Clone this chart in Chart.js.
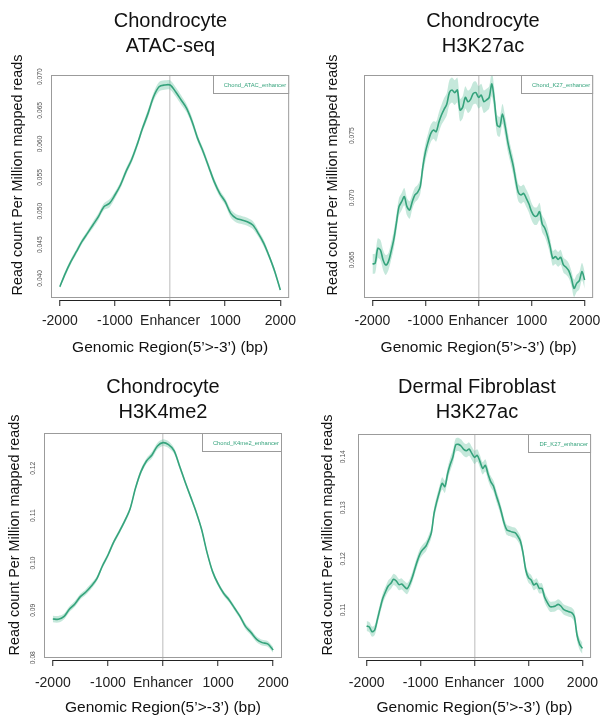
<!DOCTYPE html>
<html>
<head>
<meta charset="utf-8">
<title>Enhancer profiles</title>
<script src="https://cdn.jsdelivr.net/npm/chart.js@4.4.1/dist/chart.umd.min.js"></script>
<style>
  body { margin: 0; background: #fff; }
  #page { position: relative; width: 607px; height: 720px; overflow: hidden; }
  .panel { position: absolute; }
  .title { position: absolute; text-align: center; font: 20px 'Liberation Sans', Arial, sans-serif; color: #111; line-height: 25px; }
</style>
</head>
<body>
<div id="page">
  <canvas id="c1" class="panel" style="left:0;top:0" width="303" height="362"></canvas>
  <canvas id="c2" class="panel" style="left:303px;top:0" width="304" height="362"></canvas>
  <canvas id="c3" class="panel" style="left:0;top:362px" width="303" height="358"></canvas>
  <canvas id="c4" class="panel" style="left:303px;top:362px" width="304" height="358"></canvas>
  <div class="title" style="left:51px;top:8px;width:239px">Chondrocyte<br>ATAC-seq</div>
  <div class="title" style="left:364px;top:8px;width:238px">Chondrocyte<br>H3K27ac</div>
  <div class="title" style="left:44px;top:374px;width:238px">Chondrocyte<br>H3K4me2</div>
  <div class="title" style="left:358px;top:374px;width:238px">Dermal Fibroblast<br>H3K27ac</div>
</div>
<script>
// bin positions, bp from the enhancer centre
const pos100 = [-2000, -1900, -1800, -1700, -1600, -1500, -1400, -1300, -1200, -1100,
  -1000, -900, -800, -700, -600, -500, -400, -300, -200, -100, 0,
  100, 200, 300, 400, 500, 600, 700, 800, 900, 1000,
  1100, 1200, 1300, 1400, 1500, 1600, 1700, 1800, 1900, 2000];
const pos50 = [-2000, -1950, -1900, -1850, -1800, -1750, -1700, -1650, -1600, -1550,
  -1500, -1450, -1400, -1350, -1300, -1250, -1200, -1150, -1100, -1050,
  -1000, -950, -900, -850, -800, -750, -700, -650, -600, -550,
  -500, -450, -400, -350, -300, -250, -200, -150, -100, -50, 0,
  50, 100, 150, 200, 250, 300, 350, 400, 450, 500,
  550, 600, 650, 700, 750, 800, 850, 900, 950, 1000,
  1050, 1100, 1150, 1200, 1250, 1300, 1350, 1400, 1450, 1500,
  1550, 1600, 1650, 1700, 1750, 1800, 1850, 1900, 1950, 2000];
const xTicks = [-2000, -1000, 0, 1000, 2000];
const xTickLabels = ['-2000', '-1000', 'Enhancer', '1000', '2000'];

// Chondrocyte ATAC-seq
const atacMean = [0.03875, 0.04073, 0.04247, 0.04396, 0.04545, 0.04669, 0.04793, 0.04917, 0.05066, 0.05115,
  0.05239, 0.05388, 0.05587, 0.05760, 0.05983, 0.06231, 0.06454, 0.06702, 0.06851, 0.06876, 0.06876,
  0.06777, 0.06653, 0.06529, 0.06330, 0.06082, 0.05884, 0.05661, 0.05438, 0.05264, 0.05140,
  0.04966, 0.04892, 0.04867, 0.04842, 0.04793, 0.04669, 0.04520, 0.04322, 0.04098, 0.03826];
const atacErr = [0.0003, 0.0004, 0.0004, 0.0004, 0.0004, 0.0004, 0.0005, 0.0005, 0.0005, 0.0006,
  0.0005, 0.0005, 0.0005, 0.0005, 0.0005, 0.0005, 0.0006, 0.0006, 0.0007, 0.0007, 0.0007,
  0.0007, 0.0007, 0.0006, 0.0006, 0.0005, 0.0005, 0.0005, 0.0005, 0.0005, 0.0005,
  0.0006, 0.0006, 0.0006, 0.0006, 0.0006, 0.0005, 0.0005, 0.0004, 0.0004, 0.0003];
const atacYTicks = [0.040, 0.045, 0.050, 0.055, 0.060, 0.065, 0.070];

// Chondrocyte H3K27ac
const k27Mean = [0.06468, 0.06473, 0.06594, 0.06580, 0.06500, 0.06460, 0.06487, 0.06567, 0.06661, 0.06795,
  0.06929, 0.06969, 0.07009, 0.06929, 0.06902, 0.06969, 0.07023, 0.07044, 0.07090, 0.07251,
  0.07371, 0.07452, 0.07519, 0.07546, 0.07532, 0.07605, 0.07666, 0.07712, 0.07752, 0.07846,
  0.07867, 0.07846, 0.07867, 0.07706, 0.07728, 0.07808, 0.07773, 0.07792, 0.07840, 0.07846,
  0.07808, 0.07827, 0.07773, 0.07787, 0.07808, 0.07916, 0.07773, 0.07586, 0.07572, 0.07674,
  0.07578, 0.07452, 0.07353, 0.07264, 0.07143, 0.07042, 0.07023, 0.07036, 0.06996, 0.06950,
  0.06889, 0.06854, 0.06854, 0.06889, 0.06790, 0.06755, 0.06693, 0.06607, 0.06513, 0.06527,
  0.06505, 0.06521, 0.06460, 0.06441, 0.06414, 0.06353, 0.06272, 0.06312, 0.06334, 0.06406,
  0.06339];
const k27Err = [0.0008, 0.0008, 0.0008, 0.0008, 0.0008, 0.0008, 0.0007, 0.0007, 0.0007, 0.0007,
  0.0007, 0.0007, 0.0007, 0.0007, 0.0007, 0.0006, 0.0006, 0.0006, 0.0006, 0.0007,
  0.0007, 0.0007, 0.0007, 0.0007, 0.0008, 0.0008, 0.0008, 0.0009, 0.0009, 0.0010,
  0.0010, 0.0010, 0.0010, 0.0009, 0.0009, 0.0009, 0.0009, 0.0009, 0.0009, 0.0009,
  0.0009, 0.0009, 0.0009, 0.0009, 0.0009, 0.0010, 0.0009, 0.0008, 0.0008, 0.0008,
  0.0008, 0.0008, 0.0007, 0.0007, 0.0007, 0.0007, 0.0007, 0.0007, 0.0007, 0.0007,
  0.0007, 0.0007, 0.0007, 0.0007, 0.0007, 0.0007, 0.0007, 0.0006, 0.0006, 0.0006,
  0.0006, 0.0006, 0.0006, 0.0006, 0.0006, 0.0006, 0.0007, 0.0007, 0.0007, 0.0007,
  0.0007];
const k27YTicks = [0.065, 0.070, 0.075];

// Chondrocyte H3K4me2
const k4Mean = [0.08818, 0.08811, 0.08867, 0.09022, 0.09135, 0.09290, 0.09388, 0.09515, 0.09670, 0.09937,
  0.10163, 0.10430, 0.10648, 0.10874, 0.11134, 0.11578, 0.11930, 0.12155, 0.12282, 0.12472, 0.12542,
  0.12500, 0.12373, 0.12049, 0.11718, 0.11402, 0.11085, 0.10712, 0.10219, 0.09818, 0.09557,
  0.09360, 0.09219, 0.09043, 0.08867, 0.08656, 0.08529, 0.08388, 0.08318, 0.08290, 0.08163];
const k4Err = [0.0007, 0.0007, 0.0006, 0.0006, 0.0006, 0.0006, 0.0006, 0.0006, 0.0005, 0.0005,
  0.0005, 0.0005, 0.0005, 0.0005, 0.0005, 0.0005, 0.0006, 0.0006, 0.0007, 0.0007, 0.0007,
  0.0007, 0.0006, 0.0006, 0.0005, 0.0005, 0.0005, 0.0005, 0.0005, 0.0005, 0.0005,
  0.0005, 0.0005, 0.0005, 0.0005, 0.0006, 0.0006, 0.0006, 0.0006, 0.0006, 0.0006];
const k4YTicks = [0.08, 0.09, 0.10, 0.11, 0.12];

// Dermal fibroblast H3K27ac
const dfMean = [0.10687, 0.10667, 0.10576, 0.10609, 0.10817, 0.11032, 0.11228, 0.11359, 0.11469, 0.11522,
  0.11600, 0.11567, 0.11496, 0.11509, 0.11456, 0.11417, 0.11509, 0.11652, 0.11828, 0.11991,
  0.12122, 0.12193, 0.12252, 0.12370, 0.12513, 0.12891, 0.13120, 0.13315, 0.13478, 0.13413,
  0.13661, 0.13850, 0.14000, 0.14228, 0.14241, 0.14209, 0.14143, 0.14117, 0.14150, 0.14065,
  0.13987, 0.14026, 0.13909, 0.13772, 0.13830, 0.13661, 0.13511, 0.13426, 0.13250, 0.13087,
  0.12904, 0.12696, 0.12565, 0.12546, 0.12526, 0.12513, 0.12448, 0.12350, 0.12109, 0.11783,
  0.11633, 0.11587, 0.11489, 0.11522, 0.11424, 0.11424, 0.11248, 0.11143, 0.11065, 0.11065,
  0.11078, 0.11111, 0.11078, 0.11013, 0.10987, 0.10967, 0.10948, 0.10870, 0.10511, 0.10328,
  0.10250];
const dfErr = [0.0010, 0.0010, 0.0010, 0.0010, 0.0010, 0.0010, 0.0010, 0.0010, 0.0011, 0.0011,
  0.0011, 0.0011, 0.0011, 0.0011, 0.0011, 0.0011, 0.0010, 0.0010, 0.0010, 0.0010,
  0.0010, 0.0010, 0.0010, 0.0010, 0.0010, 0.0011, 0.0011, 0.0011, 0.0012, 0.0012,
  0.0012, 0.0013, 0.0013, 0.0013, 0.0013, 0.0013, 0.0013, 0.0013, 0.0013, 0.0013,
  0.0013, 0.0012, 0.0012, 0.0012, 0.0012, 0.0012, 0.0011, 0.0011, 0.0011, 0.0011,
  0.0010, 0.0010, 0.0010, 0.0010, 0.0010, 0.0010, 0.0010, 0.0010, 0.0010, 0.0010,
  0.0010, 0.0010, 0.0010, 0.0010, 0.0010, 0.0010, 0.0010, 0.0010, 0.0010, 0.0010,
  0.0010, 0.0010, 0.0010, 0.0010, 0.0010, 0.0010, 0.0010, 0.0011, 0.0011, 0.0011,
  0.0011];
const dfYTicks = [0.11, 0.12, 0.13, 0.14];

const yTitle = 'Read count Per Million mapped reads';
const xTitle = 'Genomic Region(5’>-3’) (bp)';

const lineCol = '#35a37c';
const bandCol = 'rgba(102, 194, 160, 0.38)';
const boxCol = '#9b9b9b';
Chart.defaults.font.family = "'Liberation Sans', Arial, sans-serif";

// grey box, short black x axis line, y title and the legend in the top right corner
const framePlugin = {
  id: 'frame',
  afterDraw(chart, args, opts) {
    const { ctx, chartArea: a, scales: { x } } = chart;
    ctx.save();
    ctx.lineWidth = 1;
    ctx.strokeStyle = boxCol;
    ctx.strokeRect(a.left + 0.5, a.top + 0.5, a.right - a.left - 1, a.bottom - 3 - a.top);
    ctx.strokeStyle = '#222';
    ctx.beginPath();
    ctx.moveTo(x.getPixelForValue(xTicks[0]), a.bottom + 0.5);
    ctx.lineTo(x.getPixelForValue(xTicks[xTicks.length - 1]), a.bottom + 0.5);
    ctx.stroke();

    // y axis title (sits a little above the box centre, as in the original)
    ctx.save();
    ctx.translate(opts.ytx, opts.yty);
    ctx.rotate(-Math.PI / 2);
    ctx.font = "14.4px 'Liberation Sans', Arial, sans-serif";
    ctx.fillStyle = '#111';
    ctx.textAlign = 'center';
    ctx.textBaseline = 'middle';
    ctx.fillText(yTitle, 0, 0);
    ctx.restore();

    const label = chart.data.datasets[0].label;
    ctx.font = "5.8px 'Liberation Sans', Arial, sans-serif";
    const w = ctx.measureText(label).width;
    const bx = Math.round(a.right - w - 14);
    ctx.fillStyle = '#fff';
    ctx.fillRect(bx, a.top, a.right - bx, 18);
    ctx.strokeStyle = boxCol;
    ctx.strokeRect(bx + 0.5, a.top + 0.5, a.right - bx - 1, 18);
    ctx.fillStyle = lineCol;
    ctx.textBaseline = 'middle';
    ctx.fillText(label, a.right - w - 3, a.top + 10);
    ctx.restore();
  }
};

function drawPanel(id, pos, mean, err, label, yTicks, yDigits, yMin, yMax, lay) {
  const pts = arr => arr.map((v, i) => ({ x: pos[i], y: v }));
  const upper = mean.map((v, i) => v + err[i]);
  const lower = mean.map((v, i) => v - err[i]);

  new Chart(document.getElementById(id), {
    type: 'line',
    data: {
      datasets: [
        { label: label, data: pts(mean), borderColor: lineCol, borderWidth: 1.6, pointRadius: 0, tension: 0.3, fill: false },
        { label: 'upper', data: pts(upper), borderWidth: 0, borderColor: 'rgba(0,0,0,0)', pointRadius: 0, tension: 0.3, fill: false },
        { label: 'lower', data: pts(lower), borderWidth: 0, borderColor: 'rgba(0,0,0,0)', pointRadius: 0, tension: 0.3, fill: '-1', backgroundColor: bandCol }
      ]
    },
    options: {
      responsive: false,
      animation: false,
      devicePixelRatio: 1,
      layout: { padding: { left: 0, top: lay.top, right: lay.right, bottom: 0 } },
      plugins: {
        legend: { display: false },
        tooltip: { enabled: false },
        frame: { ytx: lay.ytx, yty: lay.yty }
      },
      scales: {
        x: {
          type: 'linear', min: -2160, max: 2160,
          afterBuildTicks: s => { s.ticks = xTicks.map(v => ({ value: v })); },
          afterFit: s => { s.height = lay.xh; },
          ticks: {
            callback: (v, i) => xTickLabels[i],
            font: { size: 14 }, color: '#222', padding: lay.xpad,
            maxRotation: 0, autoSkip: false
          },
          grid: {
            color: c => (c.tick && c.tick.value === 0 ? '#d2d2d2' : 'rgba(0,0,0,0)'),
            lineWidth: 1.5, tickColor: '#222', tickLength: 6, tickWidth: 1
          },
          border: { display: false },
          title: {
            display: true, text: xTitle,
            font: { size: 15.5 }, color: '#111', padding: { top: 0, bottom: lay.xtp }
          }
        },
        y: {
          min: yMin, max: yMax,
          afterBuildTicks: s => { s.ticks = yTicks.map(v => ({ value: v })); },
          afterFit: s => { s.width = lay.left; },
          ticks: {
            callback: v => v.toFixed(yDigits),
            font: { size: 6.7 }, color: '#555',
            minRotation: 90, maxRotation: 90, crossAlign: 'center', padding: lay.ypad
          },
          grid: { display: false },
          border: { display: false },
          title: { display: false }
        }
      }
    },
    plugins: [framePlugin]
  });
}

drawPanel('c1', pos100, atacMean, atacErr, 'Chond_ATAC_enhancer', atacYTicks, 3, 0.03677, 0.07025,
  { left: 51, top: 75, right: 13, xh: 62, xpad: 6.6, xtp: 4.7, ypad: -6, ytx: 18, yty: 175 });
drawPanel('c2', pos50, k27Mean, k27Err, 'Chond_K27_enhancer', k27YTicks, 3, 0.06178, 0.07988,
  { left: 61, top: 75, right: 5, xh: 62, xpad: 6.6, xtp: 4.7, ypad: -4.1, ytx: 30, yty: 175 });
drawPanel('c3', pos100, k4Mean, k4Err, 'Chond_K4me2_enhancer', k4YTicks, 2, 0.07951, 0.12746,
  { left: 44, top: 71, right: 21, xh: 60, xpad: 8.6, xtp: 2.7, ypad: -3.8, ytx: 15, yty: 173 });
drawPanel('c4', pos50, dfMean, dfErr, 'DF_K27_enhancer', dfYTicks, 2, 0.10022, 0.14444,
  { left: 55, top: 72, right: 11, xh: 60, xpad: 8.6, xtp: 2.7, ypad: 0.2, ytx: 25, yty: 173 });
</script>
</body>
</html>
